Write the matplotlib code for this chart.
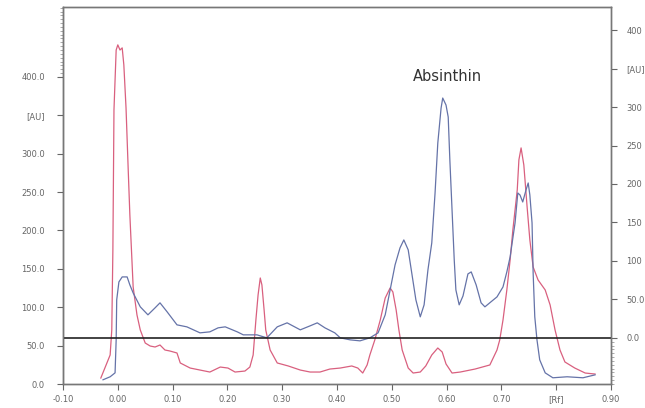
import numpy as np
import matplotlib
matplotlib.use('Agg')
import matplotlib.pyplot as plt
from matplotlib.ticker import FixedLocator

#红色曲线（左轴）: Rf 与吸光度 [AU]
red_rf = [-0.031, -0.014, -0.011, -0.009, -0.007, -0.003, 0.000, 0.004, 0.008, 0.011,
          0.015, 0.019, 0.022, 0.028, 0.035, 0.041, 0.050, 0.059, 0.068, 0.077,
          0.086, 0.095, 0.108, 0.114, 0.132, 0.150, 0.168, 0.187, 0.201, 0.214,
          0.232, 0.241, 0.247, 0.252, 0.256, 0.260, 0.263, 0.267, 0.270, 0.278,
          0.291, 0.311, 0.333, 0.351, 0.369, 0.387, 0.406, 0.427, 0.438, 0.447,
          0.455, 0.460, 0.469, 0.479, 0.488, 0.497, 0.502, 0.508, 0.513, 0.519,
          0.530, 0.539, 0.552, 0.562, 0.573, 0.584, 0.592, 0.599, 0.610, 0.625,
          0.652, 0.679, 0.692, 0.697, 0.703, 0.710, 0.716, 0.721, 0.729, 0.732,
          0.736, 0.741, 0.747, 0.752, 0.758, 0.767, 0.780, 0.789, 0.798, 0.807,
          0.816, 0.834, 0.853, 0.871]
red_au = [7.8, 37.8, 70.4, 174.6, 357.0, 435.0, 441.7, 435.0, 437.8, 415.6,
          359.6, 278.8, 220.2, 126.4, 89.9, 70.4, 53.4, 49.5, 48.2, 50.8,
          44.3, 43.0, 40.4, 27.4, 20.8, 18.2, 15.6, 22.1, 20.8, 15.6,
          16.9, 22.1, 37.8, 83.4, 116.0, 138.1, 129.0, 96.4, 70.4, 44.3,
          27.4, 23.5, 18.2, 15.6, 15.6, 19.5, 20.8, 23.5, 20.8, 14.3,
          24.8, 37.8, 57.3, 83.4, 112.0, 125.1, 119.9, 96.4, 70.4, 44.3,
          20.8, 14.3, 15.6, 23.5, 37.8, 46.9, 41.7, 26.1, 14.3, 15.6,
          19.5, 24.8, 44.3, 57.3, 83.4, 122.5, 161.6, 200.7, 252.8, 291.9,
          307.5, 285.3, 230.6, 187.6, 152.4, 135.5, 122.5, 102.9, 70.4, 44.3,
          28.7, 20.8, 14.3, 13.0]

#蓝色曲线（右轴）
blue_rf = [-0.027, -0.014, -0.005, -0.003, -0.002, 0.002, 0.008, 0.017, 0.022, 0.028,
           0.041, 0.055, 0.068, 0.077, 0.090, 0.108, 0.126, 0.150, 0.168, 0.183,
           0.196, 0.218, 0.229, 0.254, 0.272, 0.291, 0.309, 0.333, 0.351, 0.364,
           0.378, 0.396, 0.406, 0.424, 0.442, 0.460, 0.475, 0.488, 0.497, 0.506,
           0.515, 0.522, 0.530, 0.537, 0.544, 0.552, 0.559, 0.566, 0.573, 0.579,
           0.584, 0.590, 0.593, 0.599, 0.603, 0.606, 0.610, 0.614, 0.617, 0.623,
           0.630, 0.639, 0.645, 0.654, 0.663, 0.670, 0.681, 0.692, 0.703, 0.710,
           0.716, 0.721, 0.725, 0.730, 0.734, 0.739, 0.745, 0.749, 0.752, 0.756,
           0.758, 0.761, 0.765, 0.770, 0.780, 0.794, 0.820, 0.849, 0.871]
blue_au = [-54.5, -50.6, -45.5, -2.6, 49.4, 72.7, 79.2, 79.2, 68.8, 58.4,
           40.3, 29.9, 39.0, 45.5, 33.8, 16.9, 14.3, 6.5, 7.8, 13.0,
           14.3, 7.8, 3.9, 3.9, 0.0, 14.3, 19.5, 10.4, 15.6, 19.5,
           13.0, 6.5, 0.0, -2.6, -3.9, 0.0, 6.5, 29.9, 62.3, 94.8,
           116.9, 127.3, 114.3, 81.8, 49.4, 27.3, 42.9, 88.3, 123.4, 188.3,
           253.2, 298.7, 311.7, 302.6, 287.0, 231.2, 166.2, 101.3, 62.3, 42.9,
           54.5, 83.1, 85.7, 68.8, 45.5, 40.3, 46.8, 53.2, 66.2, 85.7,
           105.2, 129.9, 149.4, 188.3, 185.7, 176.6, 192.2, 201.3, 185.7, 149.4,
           84.4, 27.3, -2.6, -28.6, -45.5, -51.9, -50.6, -51.9, -48.1]

x_ticks = [-0.10, 0.00, 0.10, 0.20, 0.30, 0.40, 0.50, 0.60, 0.70, 0.80, 0.90]
x_labels = ['-0.10', '0.00', '0.10', '0.20', '0.30', '0.40', '0.50', '0.60', '0.70', '[Rf]', '0.90']
left_ticks = [0, 50, 100, 150, 200, 250, 300, 350, 400]
left_labels = ['0.0', '50.0', '100.0', '150.0', '200.0', '250.0', '300.0', '[AU]', '400.0']
right_ticks = [0, 50, 100, 150, 200, 250, 300, 350, 400]
right_labels = ['0.0', '50.0', '100', '150', '200', '250', '300', '[AU]', '400']

fig = plt.figure(figsize=(6.45, 4.08), dpi=100)
ax = fig.add_axes([0.0977, 0.0588, 0.8495, 0.9240])
ax2 = ax.twinx()

ax.plot(red_rf, red_au, color='#d9607f', lw=0.9)
ax2.plot(blue_rf, blue_au, color='#6573a8', lw=0.9)
ax2.axhline(0, color='#222222', lw=1.2)

ax.set_xlim(-0.10, 0.90)
ax.set_ylim(0, 491)
ax2.set_ylim(-60, 430)

ax.set_xticks(x_ticks)
ax.set_xticklabels(x_labels)
ax.set_yticks(left_ticks)
ax.set_yticklabels(left_labels)
ax2.set_yticks(right_ticks)
ax2.set_yticklabels(right_labels)

#刻度线外侧的细小刻度
ax.yaxis.set_minor_locator(FixedLocator(np.arange(405, 491, 5)))
ax2.yaxis.set_minor_locator(FixedLocator(np.arange(-5, -61, -5)))

for a in (ax, ax2):
    a.tick_params(axis='both', which='major', labelsize=6, labelcolor='#666666',
                  color='#666666', length=4, width=0.8)
    a.tick_params(axis='y', which='minor', length=2, width=0.5, color='#888888')
    for s in a.spines.values():
        s.set_color('#777777')
        s.set_linewidth(1.0)
ax.spines['left'].set_color('#555555')
ax.tick_params(axis='y', pad=9)
ax2.tick_params(axis='y', pad=7)
ax.tick_params(axis='x', pad=4)

ax.text(0.6025, 401, 'Absinthin', ha='center', va='center', fontsize=10.5, color='#333333')

fig.savefig('out.png', dpi=100)
